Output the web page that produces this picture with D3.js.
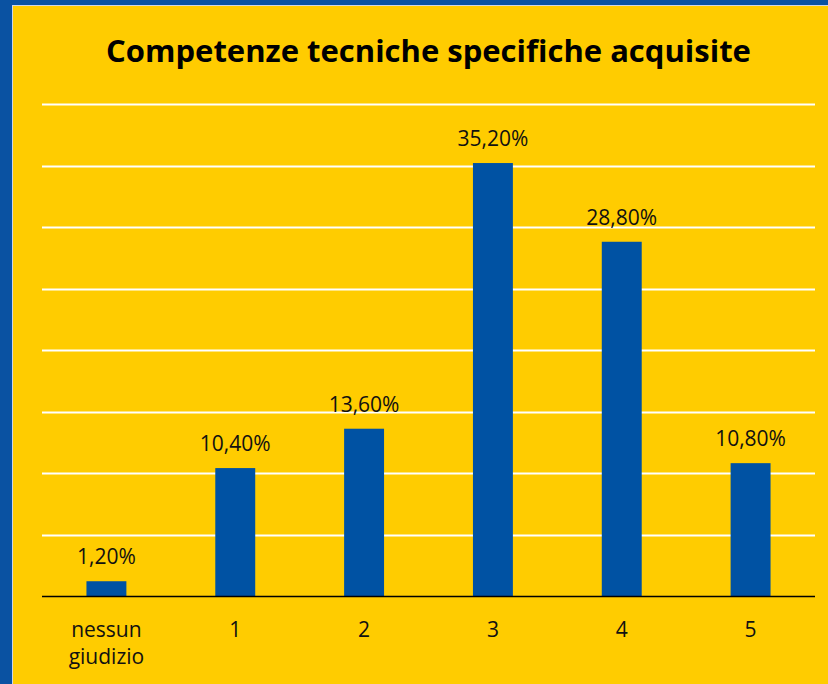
<!DOCTYPE html>
<html>
<head>
<meta charset="utf-8">
<script src="https://cdn.jsdelivr.net/npm/d3@7"></script>
<style>
  html, body { margin: 0; padding: 0; background: #0a52a2; }
  svg { display: block; }
</style>
</head>
<body>
<svg id="chart"></svg>
<script>
const categories = ['nessun giudizio', '1', '2', '3', '4', '5'];
const values = [1.2, 10.4, 13.6, 35.2, 28.8, 10.8];
const valueLabels = ['1,20%', '10,40%', '13,60%', '35,20%', '28,80%', '10,80%'];
const yTicks = [0, 5, 10, 15, 20, 25, 30, 35, 40];
const title = 'Competenze tecniche specifiche acquisite';

const width = 828, height = 684;
const margin = { top: 104, right: 13, bottom: 88, left: 42 };
const font = '"Open Sans", "Noto Sans", sans-serif';

const svg = d3.select('#chart')
    .attr('width', width)
    .attr('height', height);

// blue frame, thin light edge, yellow panel
svg.append('rect').attr('width', width).attr('height', height).attr('fill', '#0a52a2');
svg.append('rect').attr('x', 12).attr('y', 5).attr('width', width - 12).attr('height', height - 5).attr('fill', '#cfd6e6');
svg.append('rect').attr('x', 13).attr('y', 6).attr('width', width - 13).attr('height', height - 6).attr('fill', '#ffcc00');

const x = d3.scaleBand()
    .domain(categories)
    .range([margin.left, width - margin.right])
    .paddingInner(0.69)
    .paddingOuter(0.345);

const y = d3.scaleLinear()
    .domain([0, 40])
    .range([height - margin.bottom, margin.top]);

// gridlines
svg.append('g')
    .selectAll('line')
    .data(yTicks.filter(d => d > 0))
    .join('line')
    .attr('x1', margin.left)
    .attr('x2', width - margin.right)
    .attr('y1', d => Math.round(y(d)) + 0.5)
    .attr('y2', d => Math.round(y(d)) + 0.5)
    .attr('stroke', '#ffffff')
    .attr('stroke-width', 2);

// bars
svg.append('g')
    .selectAll('rect')
    .data(values)
    .join('rect')
    .attr('x', (d, i) => x(categories[i]))
    .attr('y', d => y(d))
    .attr('width', x.bandwidth())
    .attr('height', d => y(0) - y(d))
    .attr('fill', '#0052a3');

// baseline
svg.append('line')
    .attr('x1', margin.left)
    .attr('x2', width - margin.right)
    .attr('y1', y(0) + 0.5)
    .attr('y2', y(0) + 0.5)
    .attr('stroke', '#000')
    .attr('stroke-width', 1.5);

// value labels
svg.append('g')
    .selectAll('text')
    .data(values)
    .join('text')
    .attr('x', (d, i) => x(categories[i]) + x.bandwidth() / 2)
    .attr('y', d => y(d) - 17)
    .attr('text-anchor', 'middle')
    .attr('font-family', font)
    .attr('font-size', 21)
    .attr('fill', '#111')
    .text((d, i) => valueLabels[i]);

// category labels
const cat = svg.append('g')
    .selectAll('text')
    .data(categories)
    .join('text')
    .attr('x', d => x(d) + x.bandwidth() / 2)
    .attr('y', 637)
    .attr('text-anchor', 'middle')
    .attr('font-family', font)
    .attr('font-size', 21)
    .attr('fill', '#111');

cat.each(function (d) {
    const words = d.split(' ');
    const t = d3.select(this);
    words.forEach((w, i) => {
        t.append('tspan')
            .attr('x', t.attr('x'))
            .attr('dy', i === 0 ? 0 : 27)
            .text(w);
    });
});

// title
svg.append('text')
    .attr('x', (margin.left + width - margin.right) / 2)
    .attr('y', 62)
    .attr('text-anchor', 'middle')
    .attr('font-family', font)
    .attr('font-weight', 'bold')
    .attr('font-size', 31)
    .attr('fill', '#000')
    .text(title);
</script>
</body>
</html>
